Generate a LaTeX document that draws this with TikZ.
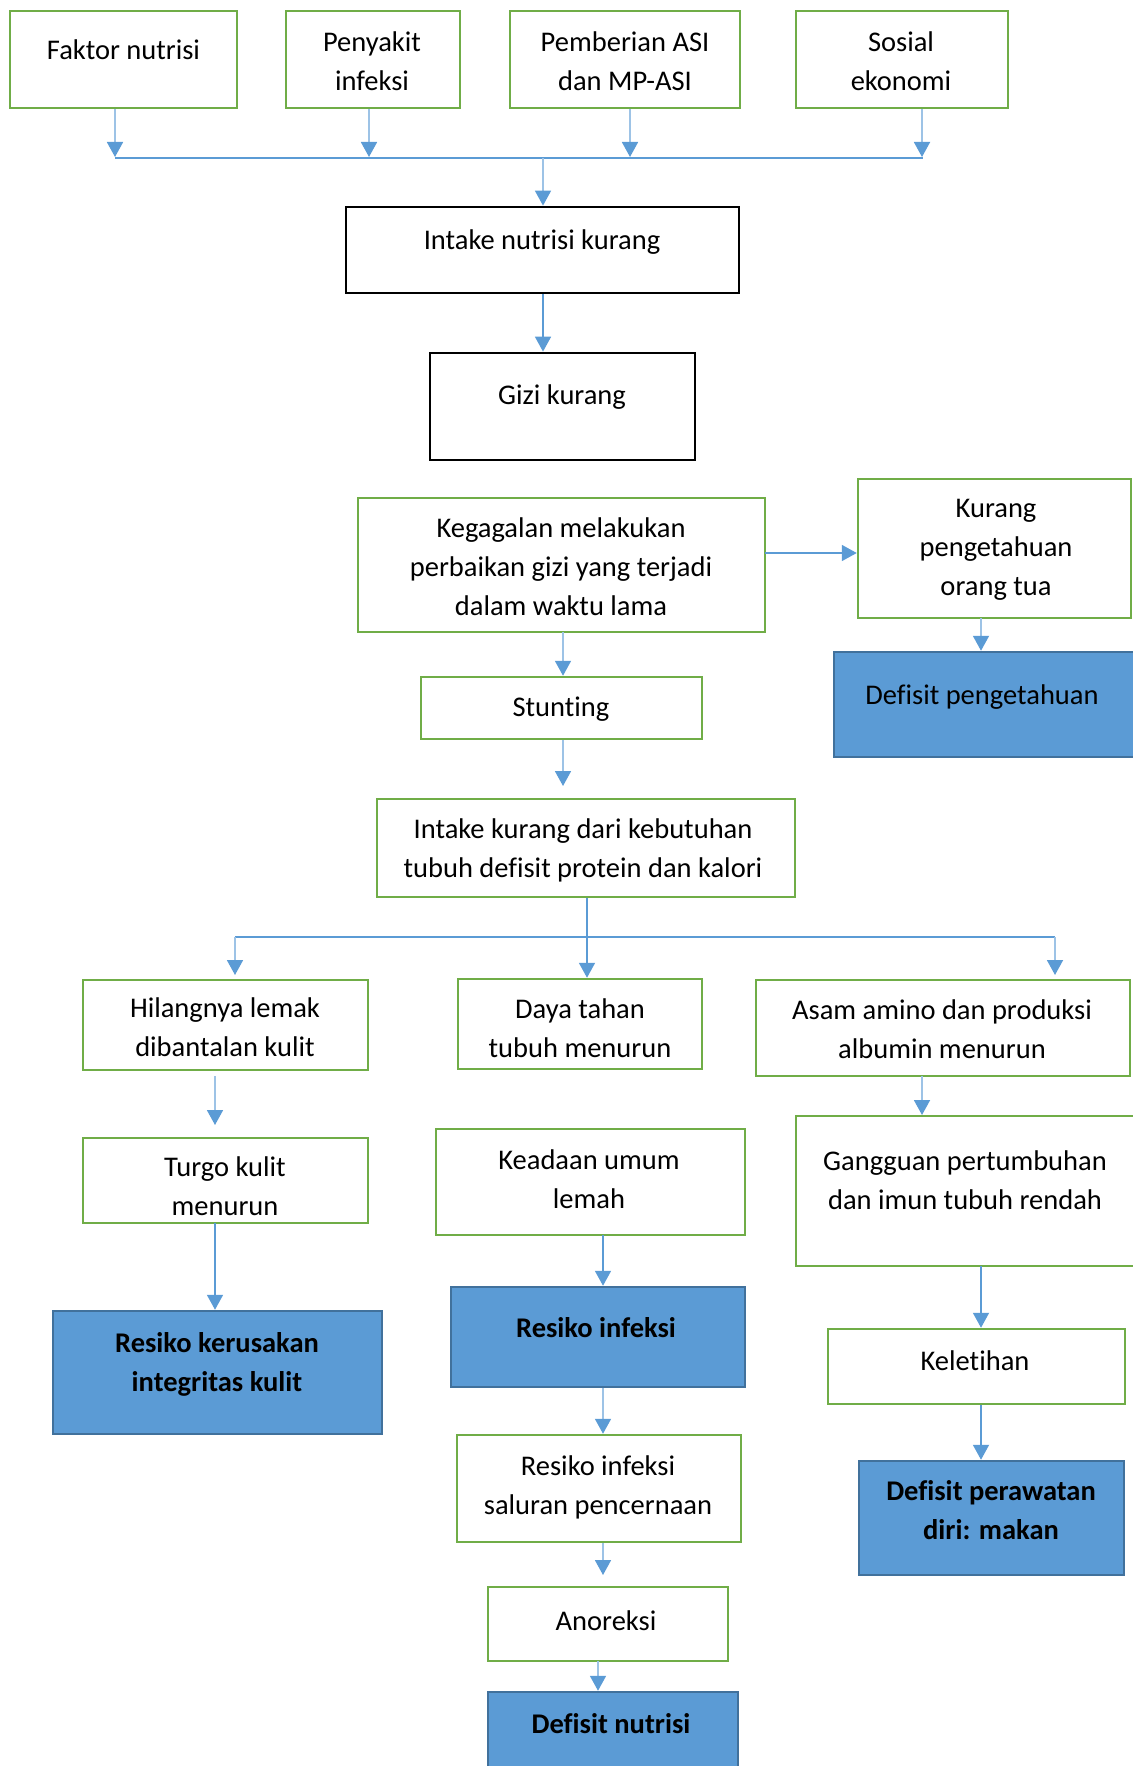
\documentclass[tikz,border=0pt]{standalone}
\usepackage{fontspec}
\setmainfont{Carlito}[Ligatures={NoCommon}]
\usetikzlibrary{arrows.meta}
\definecolor{gr}{HTML}{70AD47}
\definecolor{bl}{HTML}{5B9BD5}
\definecolor{bll}{HTML}{9DC3E6}
\definecolor{bld}{HTML}{41719C}
\begin{document}
\begin{tikzpicture}[x=1pt,y=-1pt,
  gbox/.style={draw=gr,line width=2.5pt,inner sep=0pt},
  kbox/.style={draw=black,line width=2.8pt,inner sep=0pt},
  bbox/.style={draw=bld,fill=bl,line width=2.5pt,inner sep=0pt},
  txt/.style={font=\fontsize{28.5}{39}\selectfont,align=center,inner sep=0pt},
  btxt/.style={font=\fontsize{28.5}{39}\selectfont\bfseries,align=center,inner sep=0pt},
  conn/.style={draw=bl,line width=1.8pt,-{Triangle[length=15pt,width=16pt,fill=bl]}},
  connl/.style={draw=bll,line width=1.8pt,-{Triangle[length=15pt,width=16pt,color=bl,fill=bl]}},
  lin/.style={draw=bl,line width=1.8pt},
  linl/.style={draw=bll,line width=1.8pt}]
\useasboundingbox (0,0) rectangle (1132,1766);
% top boxes
\node[gbox,minimum width=227pt,minimum height=97pt] (b1) at (123.5,59.5) {};
\node[txt] (b1t) at (123.5,50) {Faktor nutrisi};
\node[gbox,minimum width=174pt,minimum height=97pt] (b2) at (373,59.5) {};
\node[txt] (b2t) at (372,61) {Penyakit\\infeksi};
\node[gbox,minimum width=230pt,minimum height=97pt] (b3) at (625,59.5) {};
\node[txt] (b3t) at (625,61) {Pemberian ASI\\dan MP-ASI};
\node[gbox,minimum width=212pt,minimum height=97pt] (b4) at (902,59.5) {};
\node[txt] (b4t) at (901,61) {Sosial\\ekonomi};
% center chain
\node[kbox,minimum width=393pt,minimum height=86pt] (intake) at (542.5,250) {};
\node[txt] (intaket) at (542,242.5) {Intake nutrisi kurang};
\node[kbox,minimum width=265pt,minimum height=107pt] (gizi) at (562.5,406.5) {};
\node[txt] (gizit) at (562,397.5) {Gizi kurang};
\node[gbox,minimum width=407pt,minimum height=134pt] (keg) at (561.5,565) {};
\node[txt] (kegt) at (561,567) {Kegagalan melakukan\\perbaikan gizi yang terjadi\\dalam waktu lama};
\node[gbox,minimum width=273pt,minimum height=139pt] (kur) at (994.5,548.5) {};
\node[txt] (kurt) at (996,550) {Kurang\\pengetahuan\\orang tua};
\node[bbox,minimum width=306pt,minimum height=105pt] (defp) at (987,704.5) {};
\node[txt] (defpt) at (982,697.5) {Defisit pengetahuan};
\node[gbox,minimum width=281pt,minimum height=62pt] (stu) at (561.5,708) {};
\node[txt] (stut) at (561,709.5) {Stunting};
\node[gbox,minimum width=418pt,minimum height=98pt] (ik) at (586,848) {};
\node[txt] (ikt) at (583,850) {Intake kurang dari kebutuhan\\tubuh defisit protein dan kalori};
% second level
\node[gbox,minimum width=285pt,minimum height=90pt] (hil) at (225.5,1025) {};
\node[txt] (hilt) at (225,1027.5) {Hilangnya lemak\\dibantalan kulit};
\node[gbox,minimum width=244pt,minimum height=90pt] (day) at (580,1024) {};
\node[txt] (dayt) at (580,1028) {Daya tahan\\tubuh menurun};
\node[gbox,minimum width=374pt,minimum height=96pt] (asa) at (943,1028) {};
\node[txt] (asat) at (942,1029) {Asam amino dan produksi\\albumin menurun};
% left column
\node[gbox,minimum width=285pt,minimum height=85pt] (tur) at (225.5,1180.5) {};
\node[txt] (turt) at (225,1186) {Turgo kulit\\menurun};
\node[bbox,minimum width=329pt,minimum height=123pt] (rk) at (217.5,1372.5) {};
\node[btxt] (rkt) at (217,1364.5) {Resiko kerusakan\\integritas kulit};
% middle column
\node[gbox,minimum width=309pt,minimum height=106pt] (kea) at (590.5,1182) {};
\node[txt] (keat) at (589,1179) {Keadaan umum\\lemah};
\node[bbox,minimum width=294pt,minimum height=100pt] (ri) at (598,1337) {};
\node[btxt] (rit) at (596,1328) {Resiko infeksi};
\node[gbox,minimum width=284pt,minimum height=107pt] (sal) at (599,1488.5) {};
\node[txt] (salt) at (598,1487) {Resiko infeksi\\saluran pencernaan};
\node[gbox,minimum width=240pt,minimum height=74pt] (ano) at (608,1624) {};
\node[txt] (anot) at (606,1621) {Anoreksi};
\node[bbox,minimum width=250pt,minimum height=88pt] (dn) at (613,1736) {};
\node[btxt] (dnt) at (611,1724) {Defisit nutrisi};
% right column
\node[gbox,minimum width=338pt,minimum height=150pt] (gan) at (965,1191) {};
\node[txt] (gant) at (965,1180.5) {Gangguan pertumbuhan\\dan imun tubuh rendah};
\node[gbox,minimum width=297pt,minimum height=75pt] (kel) at (976.5,1366.5) {};
\node[txt] (kelt) at (975,1360.5) {Keletihan};
\node[bbox,minimum width=265pt,minimum height=114pt] (dpm) at (991.5,1518) {};
\node[btxt] (dpmt) at (991,1510.5) {Defisit perawatan\\diri: makan};
% coordinates for connectors
\coordinate (t1) at (115,157);
\coordinate (t2) at (369,157);
\coordinate (t3) at (630,157);
\coordinate (t4) at (922,157);
\coordinate (hl) at (115,158);
\coordinate (hr) at (923,158);
\coordinate (hm) at (543,158);
\coordinate (kx) at (765,553);
\coordinate (bm) at (587,937);
\coordinate (bl1) at (235,937);
\coordinate (br1) at (1055,937);
% top connectors
\draw[connl] (t1 |- b1.south) -- (t1);
\draw[connl] (t2 |- b2.south) -- (t2);
\draw[connl] (t3 |- b3.south) -- (t3);
\draw[connl] (t4 |- b4.south) -- (t4);
\draw[lin] (hl) -- (hr);
\draw[connl] (hm) -- (hm |- intake.north);
\draw[conn] (hm |- intake.south) -- (hm |- gizi.north);
% kegagalan
\draw[conn] (kx) -- (kx -| kur.west);
\draw[connl] (981,618) coordinate (ka) -- (ka |- defp.north);
\draw[connl] (563,632) coordinate (kb) -- (kb |- stu.north);
\draw[connl] (kb |- stu.south) -- (563,786);
% branch
\draw[conn] (bm |- ik.south) -- (bm |- day.north);
\draw[lin] (bl1) -- (br1);
\draw[connl] (bl1) -- (235,975);
\draw[connl] (br1) -- (1055,975);
% left
\draw[connl] (215,1076) -- (215,1125);
\draw[conn] (215,1223) coordinate (tl) -- (tl |- rk.north);
% middle
\draw[conn] (603,1235) coordinate (ml) -- (ml |- ri.north);
\draw[connl] (ml |- ri.south) -- (ml |- sal.north);
\draw[connl] (ml |- sal.south) -- (603,1575);
\draw[connl] (598,1661) coordinate (an) -- (an |- dn.north);
% right
\draw[connl] (922,1076) coordinate (rx) -- (922,1115);
\draw[conn] (981,1266) coordinate (ry) -- (ry |- kel.north);
\draw[conn] (ry |- kel.south) -- (ry |- dpm.north);
\end{tikzpicture}
\end{document}
